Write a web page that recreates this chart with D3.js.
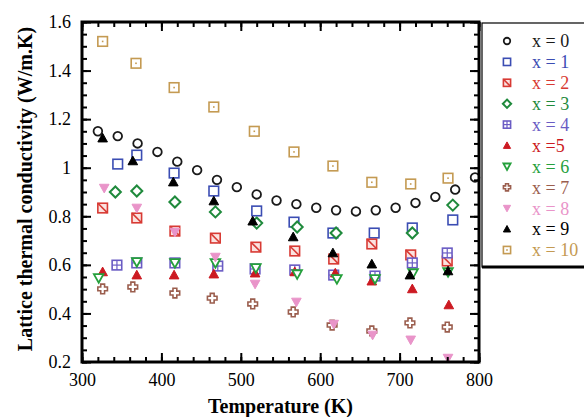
<!DOCTYPE html>
<html>
<head>
<meta charset="utf-8">
<script src="https://cdn.jsdelivr.net/npm/d3@7"></script>
<style>
  body { margin: 0; background: #fff; }
  svg text { font-family: "Liberation Serif", "Times New Roman", serif; }
</style>
</head>
<body>
<div id="chart"></div>
<script>
// series data (temperature in K, conductivity in W/m.K)
var labels = ["x = 0", "x = 1", "x = 2", "x = 3", "x = 4", "x =5", "x = 6", "x = 7", "x = 8", "x = 9", "x = 10"];
var colors = ["#1a1a1a", "#3b4db3", "#d83a34", "#1f8a3c", "#6a5cc4", "#cc1a22", "#25a03c", "#9b5e4e", "#e994c9", "#000000", "#c49a52"];
var shapes = ["circle", "square", "slashSquare", "diamond", "gridSquare", "triUpFill", "triDown", "cross", "triDownFill", "triUpFill", "dotSquare"];

var temps0 = [320, 345, 370, 395, 420, 445, 470, 495, 520, 545, 570, 595, 620, 645, 670, 695, 720, 745, 770, 795];
var vals0 = [1.15, 1.13, 1.10, 1.065, 1.025, 0.99, 0.95, 0.92, 0.89, 0.865, 0.85, 0.835, 0.825, 0.82, 0.825, 0.835, 0.855, 0.88, 0.91, 0.96];
var temps1 = [345, 369, 416, 466, 520, 567, 616, 668, 716, 767];
var vals1 = [1.015, 1.052, 0.978, 0.904, 0.822, 0.776, 0.731, 0.731, 0.752, 0.785];
var temps2 = [326, 369, 417, 468, 519, 568, 617, 665, 714, 760];
var vals2 = [0.834, 0.793, 0.739, 0.71, 0.673, 0.657, 0.624, 0.686, 0.641, 0.616];
var temps3 = [342, 369, 417, 468, 520, 571, 620, 716, 767];
var vals3 = [0.9, 0.904, 0.859, 0.818, 0.772, 0.756, 0.731, 0.731, 0.846];
var temps4 = [344, 369, 417, 471, 518, 568, 617, 669, 716, 760];
var vals4 = [0.599, 0.608, 0.608, 0.595, 0.583, 0.579, 0.558, 0.554, 0.608, 0.649];
var temps5 = [326, 369, 416, 466, 518, 568, 619, 665, 716, 762];
var vals5 = [0.571, 0.558, 0.558, 0.562, 0.566, 0.571, 0.566, 0.533, 0.501, 0.435];
var temps6 = [321, 369, 417, 468, 519, 571, 621, 669, 717, 761];
var vals6 = [0.546, 0.612, 0.608, 0.608, 0.587, 0.562, 0.542, 0.542, 0.566, 0.571];
var temps7 = [326, 364, 417, 464, 515, 566, 615, 665, 713, 760];
var vals7 = [0.501, 0.509, 0.484, 0.463, 0.439, 0.406, 0.352, 0.328, 0.361, 0.344];
var temps8 = [328, 369, 417, 468, 518, 570, 617, 666, 714, 761];
var vals8 = [0.916, 0.834, 0.735, 0.632, 0.521, 0.447, 0.356, 0.311, 0.291, 0.216];
var temps9 = [326, 364, 415, 466, 515, 566, 616, 665, 713, 761];
var vals9 = [1.122, 1.028, 0.941, 0.863, 0.78, 0.715, 0.649, 0.603, 0.558, 0.575];
var temps10 = [326, 368, 416, 466, 517, 567, 616, 665, 714, 761];
var vals10 = [1.52, 1.43, 1.33, 1.25, 1.15, 1.065, 1.007, 0.94, 0.933, 0.957];

var allTemps = [temps0, temps1, temps2, temps3, temps4, temps5, temps6, temps7, temps8, temps9, temps10];
var allVals = [vals0, vals1, vals2, vals3, vals4, vals5, vals6, vals7, vals8, vals9, vals10];

var xTicks = [300, 400, 500, 600, 700, 800];
var yTicks = [0.2, 0.4, 0.6, 0.8, 1, 1.2, 1.4, 1.6];

var width = 584, height = 417;
var plot = { left: 82, right: 479, top: 22, bottom: 362 };

var x = d3.scaleLinear().domain([300, 800]).range([plot.left, plot.right]);
var y = d3.scaleLinear().domain([0.2, 1.6]).range([plot.bottom, plot.top]);

var svg = d3.select("#chart").append("svg")
  .attr("width", width)
  .attr("height", height);

// draws one marker centred on 0,0; s is the half size
function drawMarker(g, shape, color, s) {
  var sw = 1.6;
  if (shape === "circle") {
    g.append("circle").attr("r", s * 0.9).attr("fill", "none").attr("stroke", color).attr("stroke-width", 1.8);
  } else if (shape === "square" || shape === "slashSquare" || shape === "gridSquare" || shape === "dotSquare") {
    g.append("rect").attr("x", -s).attr("y", -s).attr("width", 2 * s).attr("height", 2 * s)
      .attr("fill", shape === "slashSquare" ? "#fbe3e0" : "#fff").attr("stroke", color).attr("stroke-width", sw);
    if (shape === "slashSquare") {
      g.append("line").attr("x1", -s).attr("y1", -s).attr("x2", s).attr("y2", s)
        .attr("stroke", color).attr("stroke-width", sw);
    } else if (shape === "gridSquare") {
      g.append("line").attr("x1", -s).attr("y1", 0).attr("x2", s).attr("y2", 0).attr("stroke", color).attr("stroke-width", 1.2);
      g.append("line").attr("x1", 0).attr("y1", -s).attr("x2", 0).attr("y2", s).attr("stroke", color).attr("stroke-width", 1.2);
    } else if (shape === "dotSquare") {
      g.append("rect").attr("x", -0.8).attr("y", -0.8).attr("width", 1.6).attr("height", 1.6).attr("fill", color);
    }
  } else if (shape === "diamond") {
    var d = s * 1.15;
    g.append("path").attr("d", "M0," + (-d) + "L" + d + ",0L0," + d + "L" + (-d) + ",0Z")
      .attr("fill", "#fff").attr("stroke", color).attr("stroke-width", 2);
  } else if (shape === "triUpFill") {
    g.append("path").attr("d", "M0," + (-s) + "L" + s + "," + (s * 0.8) + "L" + (-s) + "," + (s * 0.8) + "Z")
      .attr("fill", color).attr("stroke", color).attr("stroke-width", 1);
  } else if (shape === "triDown" || shape === "triDownFill") {
    g.append("path").attr("d", "M0," + s + "L" + s + "," + (-s * 0.8) + "L" + (-s) + "," + (-s * 0.8) + "Z")
      .attr("fill", shape === "triDownFill" ? color : "#fff").attr("stroke", color).attr("stroke-width", shape === "triDown" ? 1.8 : 1);
  } else if (shape === "cross") {
    var a = s * 0.4;
    g.append("path")
      .attr("d", "M" + (-a) + "," + (-s) + "H" + a + "V" + (-a) + "H" + s + "V" + a + "H" + a + "V" + s +
        "H" + (-a) + "V" + a + "H" + (-s) + "V" + (-a) + "H" + (-a) + "Z")
      .attr("fill", "#fff").attr("stroke", color).attr("stroke-width", 1.6);
  }
}

// points
allTemps.forEach(function(ts, i) {
  var pts = ts.map(function(t, j) { return { t: t, v: allVals[i][j] }; });
  svg.append("g").attr("class", "series-" + i)
    .selectAll("g")
    .data(pts)
    .join("g")
    .attr("transform", function(d) { return "translate(" + x(d.t) + "," + y(d.v) + ")"; })
    .each(function() { drawMarker(d3.select(this), shapes[i], colors[i], 4.8); });
});

// axes: ticks point inward on all four sides
var xMinor = d3.range(300, 801, 20);
var yMinor = d3.range(0.2, 1.6001, 0.05);

function styleAxis(g) {
  g.select(".domain").remove();
  g.selectAll(".tick line").attr("stroke", "#000").attr("stroke-width", 2);
  g.selectAll("text").attr("fill", "#000").style("font-size", "18px");
}

svg.append("g").attr("transform", "translate(0," + plot.bottom + ")")
  .call(d3.axisBottom(x).tickValues(xMinor).tickSize(-5).tickFormat(""))
  .call(styleAxis);
svg.append("g").attr("transform", "translate(0," + plot.bottom + ")")
  .call(d3.axisBottom(x).tickValues(xTicks).tickSize(-9).tickPadding(11).tickFormat(d3.format("d")))
  .call(styleAxis);
svg.append("g").attr("transform", "translate(0," + plot.top + ")")
  .call(d3.axisTop(x).tickValues(xMinor).tickSize(-5).tickFormat(""))
  .call(styleAxis);
svg.append("g").attr("transform", "translate(0," + plot.top + ")")
  .call(d3.axisTop(x).tickValues(xTicks).tickSize(-9).tickFormat(""))
  .call(styleAxis);

svg.append("g").attr("transform", "translate(" + plot.left + ",0)")
  .call(d3.axisLeft(y).tickValues(yMinor).tickSize(-5).tickFormat(""))
  .call(styleAxis);
svg.append("g").attr("transform", "translate(" + plot.left + ",0)")
  .call(d3.axisLeft(y).tickValues(yTicks).tickSize(-9).tickPadding(11).tickFormat(d3.format("~g")))
  .call(styleAxis);
svg.append("g").attr("transform", "translate(" + plot.right + ",0)")
  .call(d3.axisRight(y).tickValues(yMinor).tickSize(-5).tickFormat(""))
  .call(styleAxis);
svg.append("g").attr("transform", "translate(" + plot.right + ",0)")
  .call(d3.axisRight(y).tickValues(yTicks).tickSize(-9).tickFormat(""))
  .call(styleAxis);

// frame
svg.append("rect")
  .attr("x", plot.left).attr("y", plot.top)
  .attr("width", plot.right - plot.left).attr("height", plot.bottom - plot.top)
  .attr("fill", "none").attr("stroke", "#000").attr("stroke-width", 3);

// axis titles
svg.append("text")
  .attr("x", (plot.left + plot.right) / 2).attr("y", 413)
  .attr("text-anchor", "middle")
  .style("font-size", "20px").style("font-weight", "bold")
  .text("Temperature (K)");

svg.append("text")
  .attr("transform", "translate(32," + 189 + ") rotate(-90)")
  .attr("text-anchor", "middle")
  .style("font-size", "20px").style("font-weight", "bold")
  .text("Lattice thermal conductivity (W/m.K)");

// legend box, runs off the right edge
var legend = svg.append("g");
legend.append("rect")
  .attr("x", 482).attr("y", 23).attr("width", 140).attr("height", 244)
  .attr("fill", "#fff").attr("stroke", "#000").attr("stroke-width", 1.2);
legend.append("line")
  .attr("x1", 482).attr("x2", width).attr("y1", 267).attr("y2", 267)
  .attr("stroke", "#000").attr("stroke-width", 3);

var rowY = d3.scaleLinear().domain([0, 10]).range([41, 250]);
labels.forEach(function(lab, i) {
  var row = legend.append("g").attr("transform", "translate(0," + rowY(i) + ")");
  drawMarker(row.append("g").attr("transform", "translate(507,0)"), shapes[i], colors[i], 3.6);
  row.append("text")
    .attr("x", 532).attr("y", 0).attr("dy", "0.35em")
    .attr("fill", colors[i])
    .style("font-size", "18px")
    .text(lab);
});
</script>
</body>
</html>
